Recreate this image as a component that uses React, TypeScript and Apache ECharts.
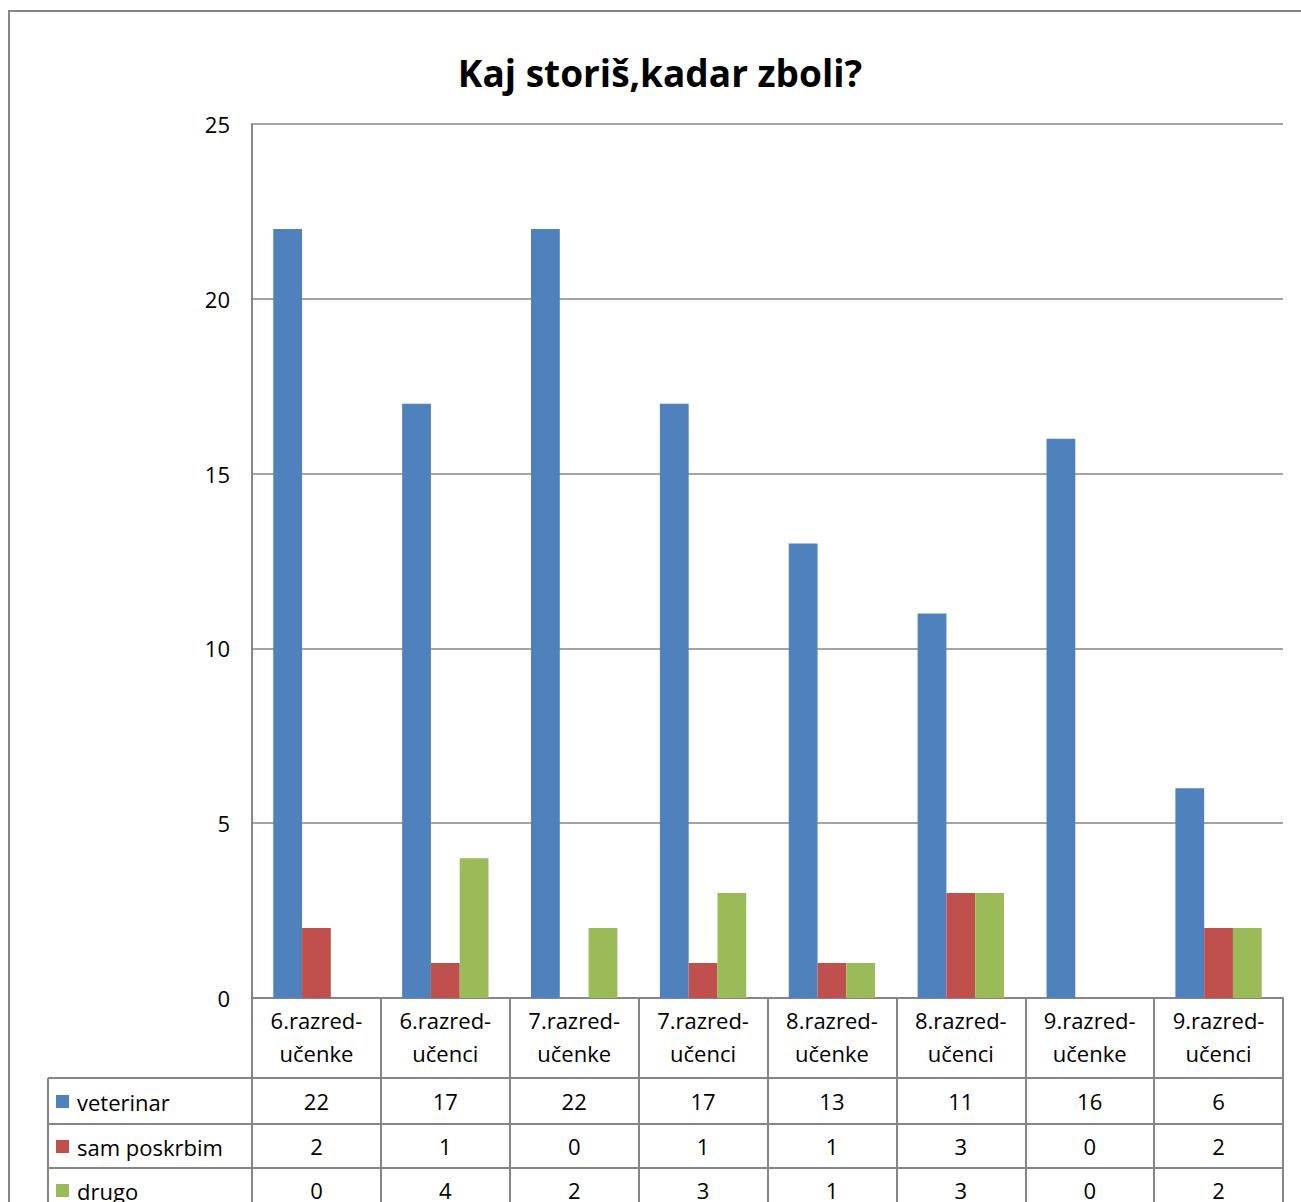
import React, { useEffect, useRef } from "react";
import * as echarts from "echarts";

const categories = [
  "6.razred-\nučenke",
  "6.razred-\nučenci",
  "7.razred-\nučenke",
  "7.razred-\nučenci",
  "8.razred-\nučenke",
  "8.razred-\nučenci",
  "9.razred-\nučenke",
  "9.razred-\nučenci",
];
const seriesNames = ["veterinar", "sam poskrbim", "drugo"];
const veterinar = [22, 17, 22, 17, 13, 11, 16, 6];
const samPoskrbim = [2, 1, 0, 1, 1, 3, 0, 2];
const drugo = [0, 4, 2, 3, 1, 3, 0, 2];
const yTicks = [0, 5, 10, 15, 20, 25];
const colors = ["#4F81BD", "#C0504D", "#9BBB59"];
const titleText = "Kaj storiš,kadar zboli?";

const W = 1301;
const H = 1202;
const GL = 252;
const GR = 18;
const GT = 124;
const GB = 204;
const HEADER_H = 80;
const ROW_H = [46, 44, 44];
const TABLE_LEFT = 48;
const LINE = "#868686";
const FONT = "'Open Sans', 'Noto Sans', sans-serif";
const FS = 22;

export default function App() {
  const ref = useRef<HTMLDivElement>(null);
  useEffect(() => {
    if (!ref.current) return;
    const chart = echarts.init(ref.current, null, { renderer: "svg" });
    const rows = [veterinar, samPoskrbim, drugo];
    const axisBottom = H - GB;
    const offsets: number[] = [];
    let acc = HEADER_H;
    for (let i = 0; i < rows.length; i++) {
      offsets.push(acc);
      acc += ROW_H[i];
    }
    const xAxes: any[] = [
      {
        type: "category",
        data: categories,
        position: "bottom",
        gridIndex: 0,
        axisLine: { show: true, lineStyle: { color: LINE, width: 2 } },
        axisTick: { show: true, length: HEADER_H, lineStyle: { color: LINE, width: 2 } },
        axisLabel: {
          interval: 0,
          margin: 5,
          color: "#000",
          fontSize: FS,
          lineHeight: 33,
          fontFamily: FONT,
        },
      },
    ];
    rows.forEach((vals, i) => {
      xAxes.push({
        type: "category",
        data: categories,
        position: "bottom",
        offset: offsets[i],
        gridIndex: 0,
        axisLine: { show: true, lineStyle: { color: LINE, width: 2 } },
        axisTick: { show: true, length: ROW_H[i], lineStyle: { color: LINE, width: 2 } },
        axisLabel: {
          interval: 0,
          margin: ROW_H[i] / 2 - 11,
          color: "#000",
          fontSize: FS,
          lineHeight: 22,
          fontFamily: FONT,
          formatter: (_v: string, idx: number) => String(vals[idx]),
        },
      });
    });

    const graphics: any[] = [
      {
        type: "rect",
        shape: { x: 9, y: 11, width: W + 20, height: H + 20 },
        style: { fill: "none", stroke: LINE, lineWidth: 2 },
        silent: true,
      },
      {
        type: "line",
        shape: {
          x1: TABLE_LEFT,
          y1: axisBottom + HEADER_H,
          x2: TABLE_LEFT,
          y2: H + 20,
        },
        style: { stroke: LINE, lineWidth: 2 },
      },
    ];
    rows.forEach((_vals, i) => {
      const yTop = axisBottom + offsets[i];
      const yMid = yTop + ROW_H[i] / 2;
      graphics.push({
        type: "line",
        shape: { x1: TABLE_LEFT, y1: yTop, x2: GL, y2: yTop },
        style: { stroke: LINE, lineWidth: 2 },
      });
      graphics.push({
        type: "rect",
        shape: { x: TABLE_LEFT + 8, y: yMid - 6, width: 13, height: 13 },
        style: { fill: colors[i] },
      });
      graphics.push({
        type: "text",
        x: TABLE_LEFT + 29,
        y: yMid + 1,
        style: {
          text: seriesNames[i],
          fill: "#000",
          fontSize: FS,
          fontFamily: FONT,
          verticalAlign: "middle",
          align: "left",
        },
      });
    });

    chart.setOption({
      animation: false,
      backgroundColor: "#fff",
      title: {
        text: titleText,
        left: 655,
        top: 49,
        textAlign: "center",
        textStyle: {
          fontSize: 37,
          fontWeight: "bold",
          fontFamily: FONT,
          color: "#000",
        },
      },
      grid: { left: GL, right: GR, top: GT, bottom: GB, containLabel: false },
      xAxis: xAxes,
      yAxis: {
        type: "value",
        min: yTicks[0],
        max: yTicks[yTicks.length - 1],
        interval: 5,
        axisLine: { show: true, lineStyle: { color: LINE, width: 2 } },
        axisTick: { show: false },
        splitLine: { show: true, lineStyle: { color: LINE, width: 1.5 } },
        axisLabel: { margin: 22, color: "#000", fontSize: FS, fontFamily: FONT },
      },
      series: [veterinar, samPoskrbim, drugo].map((d, i) => ({
        type: "bar",
        name: seriesNames[i],
        data: d,
        xAxisIndex: 0,
        barGap: "0%",
        barCategoryGap: "33%",
        itemStyle: { color: colors[i] },
      })),
      graphic: graphics,
    });
    return () => chart.dispose();
  }, []);
  return (
    <div
      ref={ref}
      style={{ position: "fixed", left: 0, top: 0, width: W, height: H }}
    />
  );
}
